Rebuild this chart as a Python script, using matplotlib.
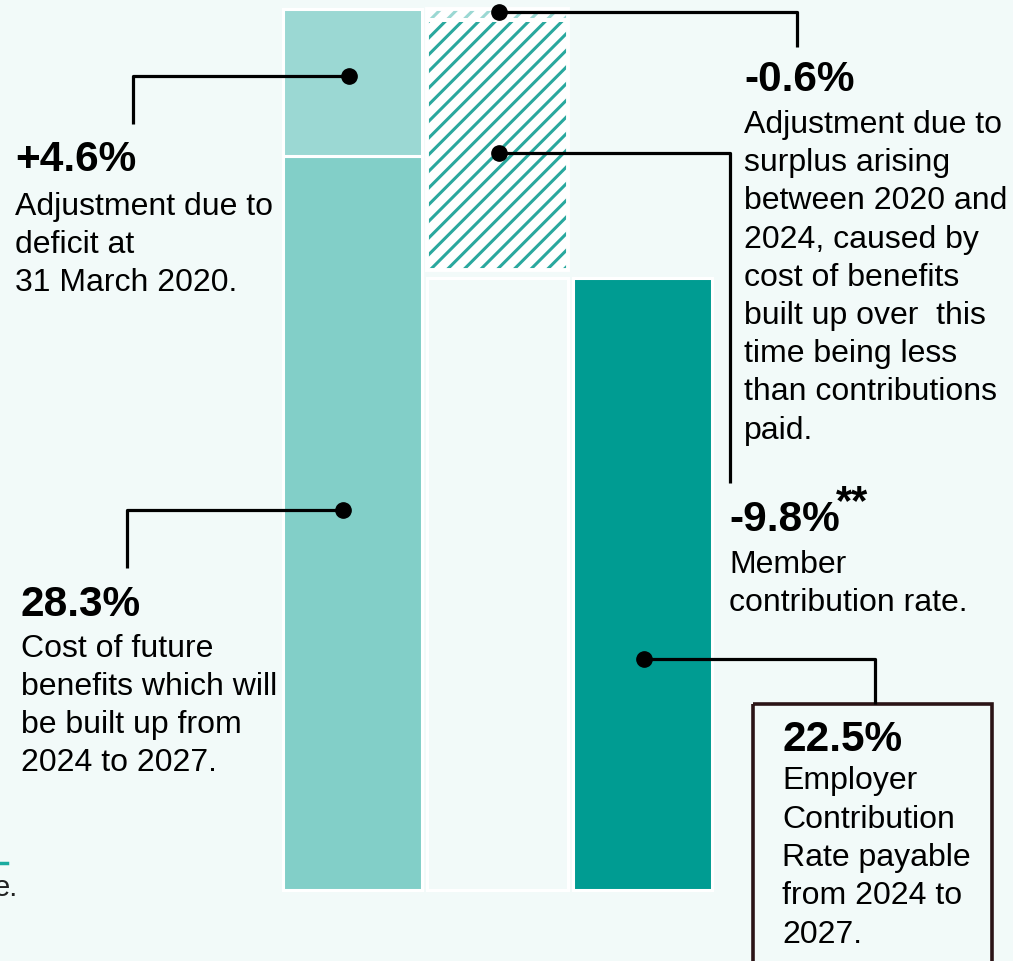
import matplotlib
matplotlib.use("Agg")
import matplotlib.pyplot as plt
from matplotlib.patches import Rectangle

plt.rcParams['font.family'] = ['Liberation Sans', 'DejaVu Sans']
plt.rcParams['hatch.linewidth'] = 2.2

# bar segments (heights as drawn in the picture, % units)
segments = ["Cost of future benefits", "Deficit adjustment", "Surplus adjustment",
            "Member contribution", "Employer rate"]
seg_heights = [27.0, 5.4, -0.4, -9.2, 22.5]
seg_column = [0, 0, 1, 1, 2]

# label texts
titles = ["+4.6%", "28.3%", "-0.6%", "-9.8%", "22.5%"]
bodies = [
    ["Adjustment due to", "deficit at", "31 March 2020."],
    ["Cost of future", "benefits which will", "be built up from", "2024 to 2027."],
    ["Adjustment due to", "surplus arising", "between 2020 and", "2024, caused by",
     "cost of benefits", "built up over  this", "time being less",
     "than contributions", "paid."],
    ["Member", "contribution rate."],
    ["Employer", "Contribution", "Rate payable", "from 2024 to", "2027."],
]

BG = "#f2faf9"
C_LIGHT = "#9bd8d3"
C_MID = "#82cfc8"
C_DARK = "#009c92"
C_HATCH = "#2aa89e"

W, H = 1013, 961
fig = plt.figure(figsize=(W / 100, H / 100), dpi=100, facecolor=BG)

# pixel scale for the bar axis: baseline at y=890 px, 27.2 px per unit
base_px, k = 890, 27.2
ax = fig.add_axes([0, 0, 1, 1])
ax.set_facecolor("none")
ax.set_xlim(0, W)
ax.set_ylim(-(H - base_px) / k, base_px / k)
ax.axis("off")

col_left = [283, 427, 573]
col_w = [139, 141, 139]
EDGE = 2.2

# empty slot under the hatched bar (same height as the final bar)
ax.bar(col_left[1], seg_heights[4], width=col_w[1], bottom=0, align="edge",
       color=BG, edgecolor="white", linewidth=EDGE, zorder=1)

# waterfall
level = 0.0
for i, (name, h, c) in enumerate(zip(segments, seg_heights, seg_column)):
    if i == 4:
        level = 0.0
    bottom = level if h > 0 else level + h
    x = col_left[c]
    if c == 1:
        hc = C_LIGHT if i == 2 else C_HATCH
        ax.bar(x, abs(h), width=col_w[c], bottom=bottom, align="edge",
               color="white", edgecolor=hc, hatch="//", linewidth=0, zorder=2)
        ax.bar(x, abs(h), width=col_w[c], bottom=bottom, align="edge",
               fill=False, edgecolor="white", linewidth=EDGE + 0.6, zorder=3)
    else:
        fc = {0: C_MID, 1: C_LIGHT, 4: C_DARK}[i]
        ax.bar(x, abs(h), width=col_w[c], bottom=bottom, align="edge",
               color=fc, edgecolor="white", linewidth=EDGE, zorder=2)
    level += h

# overlay axis in pixel coordinates for labels and connectors
lay = fig.add_axes([0, 0, 1, 1])
lay.set_xlim(0, W)
lay.set_ylim(H, 0)
lay.axis("off")
lay.patch.set_alpha(0)

connectors = [
    [(349, 76), (133, 76), (133, 124)],
    [(343, 510), (127, 510), (127, 568)],
    [(499, 12), (797, 12), (797, 47)],
    [(499, 153), (730, 153), (730, 483)],
    [(644, 659), (875, 659), (875, 704)],
]
for pts in connectors:
    xs, ys = zip(*pts)
    lay.plot(xs, ys, color="black", lw=2.3, solid_capstyle="butt", zorder=5)
    lay.plot(xs[0], ys[0], "o", color="black", ms=11, zorder=6)

text_pos = [(15, 160), (21, 605), (744, 80), (729, 520), (782, 740)]
line_y0 = [207, 649, 125, 565, 781]
spacing = [38, 38, 38.2, 38, 38.5]
for t, lines, (tx, ty), y0, sp in zip(titles, bodies, text_pos, line_y0, spacing):
    lay.text(tx, ty, t, fontsize=30.5, fontweight="bold", va="center",
             ha="left", color="black", zorder=7)
    for j, line in enumerate(lines):
        lay.text(tx, y0 + j * sp, line, fontsize=23, va="center", ha="left",
                 color="black", zorder=7)
lay.text(836, 503, "**", fontsize=30, fontweight="bold", va="center",
         ha="left", color="black", zorder=7)

# employer box
lay.add_patch(Rectangle((753, 704), 239, 280, facecolor="none",
                        edgecolor="#2b1416", lw=2.6, zorder=4))

# cut-off footnote at left edge
lay.plot([0, 7], [863, 863], color="#1aaba0", lw=2.5)
lay.text(-6, 888, "e.", fontsize=21, va="center", ha="left", color="#222222")

fig.savefig("out.png", dpi=100, facecolor=BG)
